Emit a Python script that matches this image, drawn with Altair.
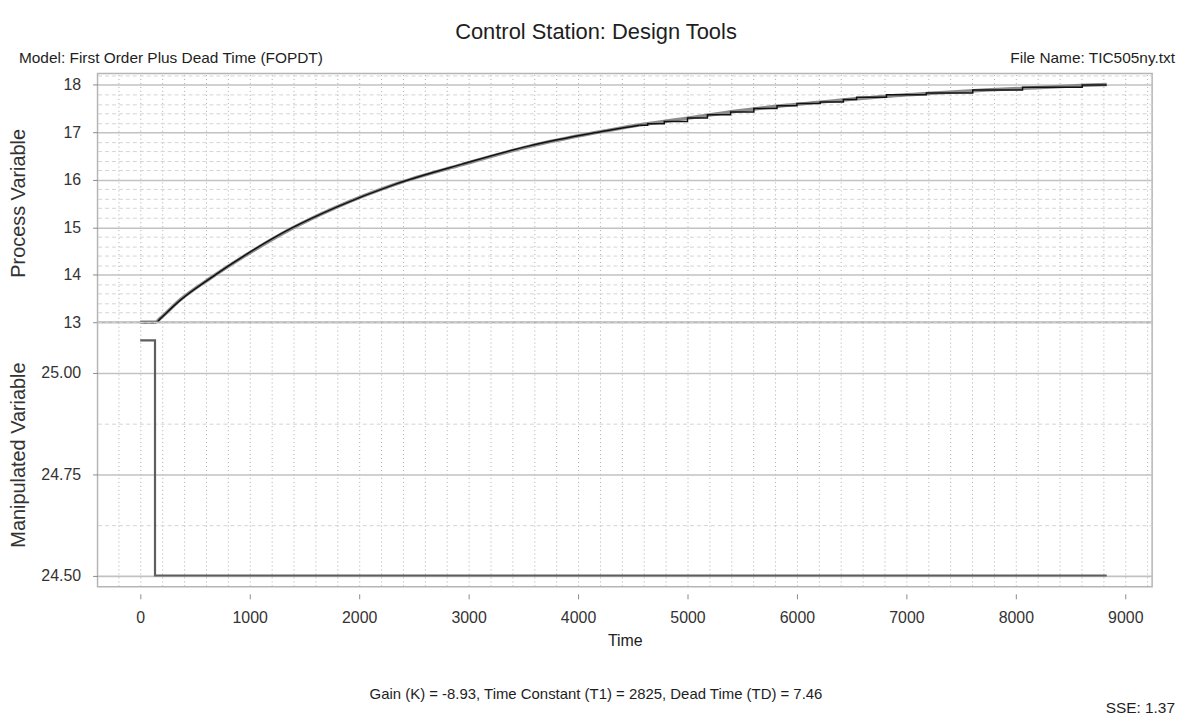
import altair as alt
import pandas as pd

FONT = "Liberation Sans"

TITLE = "Control Station: Design Tools"
MODEL_TXT = "Model: First Order Plus Dead Time (FOPDT)"
FILE_TXT = "File Name: TIC505ny.txt"
GAIN_TXT = "Gain (K) = -8.93, Time Constant (T1) = 2825, Dead Time (TD) = 7.46"
SSE_TXT = "SSE: 1.37"

# measured process variable (smooth early part)
meas_t_early = [0, 150, 182, 364, 636, 970, 1364, 1788, 2333, 2939, 3545, 4152, 4560]
meas_v_early = [13.0, 13.0, 13.07, 13.46, 13.92, 14.43, 14.96, 15.42, 15.91, 16.33, 16.71, 16.99, 17.15]
# measured process variable (visible quantisation steps later on)
step_t = [4560, 4636, 4788, 5000, 5182, 5394, 5606, 5818, 6000, 6212, 6424, 6545, 6818, 7182, 7606, 8061, 8606, 8830]
step_v = [17.15, 17.18, 17.23, 17.30, 17.37, 17.43, 17.50, 17.56, 17.61, 17.64, 17.69, 17.74, 17.79, 17.83, 17.89, 17.95, 18.00, 18.00]

# FOPDT model fit
model_t = [0, 140, 182, 364, 636, 970, 1364, 1788, 2333, 2939, 3545, 4152, 4545, 5000,
           5455, 5909, 6364, 6818, 7273, 7727, 8182, 8636, 8830]
model_v = [13.0, 13.0, 13.08, 13.47, 13.92, 14.42, 14.95, 15.42, 15.91, 16.32, 16.70, 16.99, 17.15, 17.30,
           17.45, 17.57, 17.67, 17.76, 17.83, 17.89, 17.94, 17.99, 18.01]

# manipulated variable
mv_t = [0, 135, 135, 8830]
mv_v = [25.08, 25.08, 24.50, 24.50]

x_grid_vals = list(range(-200, 9201, 200))
top_y_vals = [13.0, 13.2, 13.4, 13.6, 13.8, 14.0, 14.2, 14.4, 14.6, 14.8, 15.0, 15.2, 15.4, 15.6, 15.8,
              16.0, 16.2, 16.4, 16.6, 16.8, 17.0, 17.2, 17.4, 17.6, 17.8, 18.0, 18.2]
bot_y_vals = [24.5, 24.625, 24.75, 24.875, 25.0, 25.125]

# ---- tables ----
early_df = pd.DataFrame({"t": meas_t_early, "v": meas_v_early})
late_df = pd.DataFrame({"t": step_t, "v": step_v})
model_df = pd.DataFrame({"t": model_t, "v": model_v})
mv_df = pd.DataFrame({"t": mv_t, "v": mv_v, "i": range(len(mv_t))})

xscale = alt.Scale(domain=[-390, 9245], nice=False, zero=False)

top_major = "abs(datum.value - round(datum.value)) < 0.01"
bot_major = "abs(datum.value * 4 - round(datum.value * 4)) < 0.01"
x_major = "datum.value % 1000 === 0"


def y_axis(values, test, fmt, title, title_y):
    return alt.Axis(
        values=values,
        tickCount=500,
        grid=True,
        gridDash={"condition": {"test": test, "value": []}, "value": [4, 3]},
        gridColor={"condition": {"test": test, "value": "#c2c2c2"}, "value": "#d4d4d4"},
        gridWidth={"condition": {"test": test, "value": 1.6}, "value": 1},
        tickOpacity={"condition": {"test": test, "value": 1}, "value": 0},
        tickColor="#8a8a8a",
        tickSize=5,
        domain=False,
        labelExpr=f"{test} ? format(datum.value, '{fmt}') : ''",
        labelOverlap=False,
        labelFontSize=16,
        labelColor="#333333",
        labelPadding=12,
        title=title,
        titleFontSize=20,
        titleFontWeight="normal",
        titleColor="#333333",
        titleX=-79,
        titleY=title_y,
        titleAngle=270,
        titleBaseline="middle",
    )


top_x_axis = alt.Axis(orient="top", values=x_grid_vals, tickCount=500, grid=True, gridDash=[1, 3],
                      gridColor="#ababab", labels=False, ticks=False, domain=False, title=None)

bot_x_axis = alt.Axis(
    values=x_grid_vals,
    tickCount=500,
    grid=True,
    gridDash=[1, 3],
    gridColor="#ababab",
    tickOpacity={"condition": {"test": x_major, "value": 1}, "value": 0},
    tickColor="#8a8a8a",
    tickSize=5,
    offset=7,
    domain=False,
    labelExpr=f"{x_major} ? format(datum.value, 'd') : ''",
    labelOverlap=False,
    labelFontSize=16,
    labelColor="#333333",
    labelPadding=11,
    title="Time",
    titleFontSize=16,
    titleFontWeight="normal",
    titleColor="#222222",
    titlePadding=7,
)


def note(txt, x, y, size, align):
    return alt.Chart(pd.DataFrame({"s": [txt]})).mark_text(
        align=align, baseline="alphabetic", fontSize=size, font=FONT, color="#1e1e1e"
    ).encode(x=alt.value(x), y=alt.value(y), text="s:N")


model_line = alt.Chart(model_df).mark_line(
    color="#8c8c8c", strokeWidth=3.5, interpolate="monotone"
).encode(
    x=alt.X("t:Q", scale=xscale, axis=top_x_axis),
    y=alt.Y("v:Q", scale=alt.Scale(domain=[13, 18.24], nice=False, zero=False),
            axis=y_axis(top_y_vals, top_major, "d", "Process Variable", 130)),
)
meas_early = alt.Chart(early_df).mark_line(
    color="#111111", strokeWidth=1.5, interpolate="monotone"
).encode(x="t:Q", y="v:Q")
meas_late = alt.Chart(late_df).mark_line(
    color="#111111", strokeWidth=1.5, interpolate="step-after"
).encode(x="t:Q", y="v:Q")

top = alt.layer(
    model_line,
    meas_early,
    meas_late,
    note(TITLE, 501, -35, 22, "center"),
    note(MODEL_TXT, -79, -11, 15.5, "left"),
    note(FILE_TXT, 1083, -11, 15.5, "right"),
).properties(width=1060, height=250)

mv_line = alt.Chart(mv_df).mark_line(color="#5e5e5e", strokeWidth=2.2).encode(
    x=alt.X("t:Q", scale=xscale, axis=bot_x_axis),
    y=alt.Y("v:Q", scale=alt.Scale(domain=[24.472, 25.125], nice=False, zero=False),
            axis=y_axis(bot_y_vals, bot_major, ".2f", "Manipulated Variable", 133)),
    order="i:Q",
)

bottom = alt.layer(
    mv_line,
    note(GAIN_TXT, 501, 379, 15, "center"),
    note(SSE_TXT, 1083, 393, 15.5, "right"),
).properties(width=1060, height=266)

chart = alt.vconcat(top, bottom, spacing=0, bounds="flush").properties(
    padding={"left": 0, "top": 10, "right": 0, "bottom": 0}
).configure_view(stroke="#b5b5b5", strokeWidth=1.5).configure_axis(
    labelFont=FONT, titleFont=FONT
)

chart.save("out.html", embed_options={"renderer": "svg", "actions": False})
